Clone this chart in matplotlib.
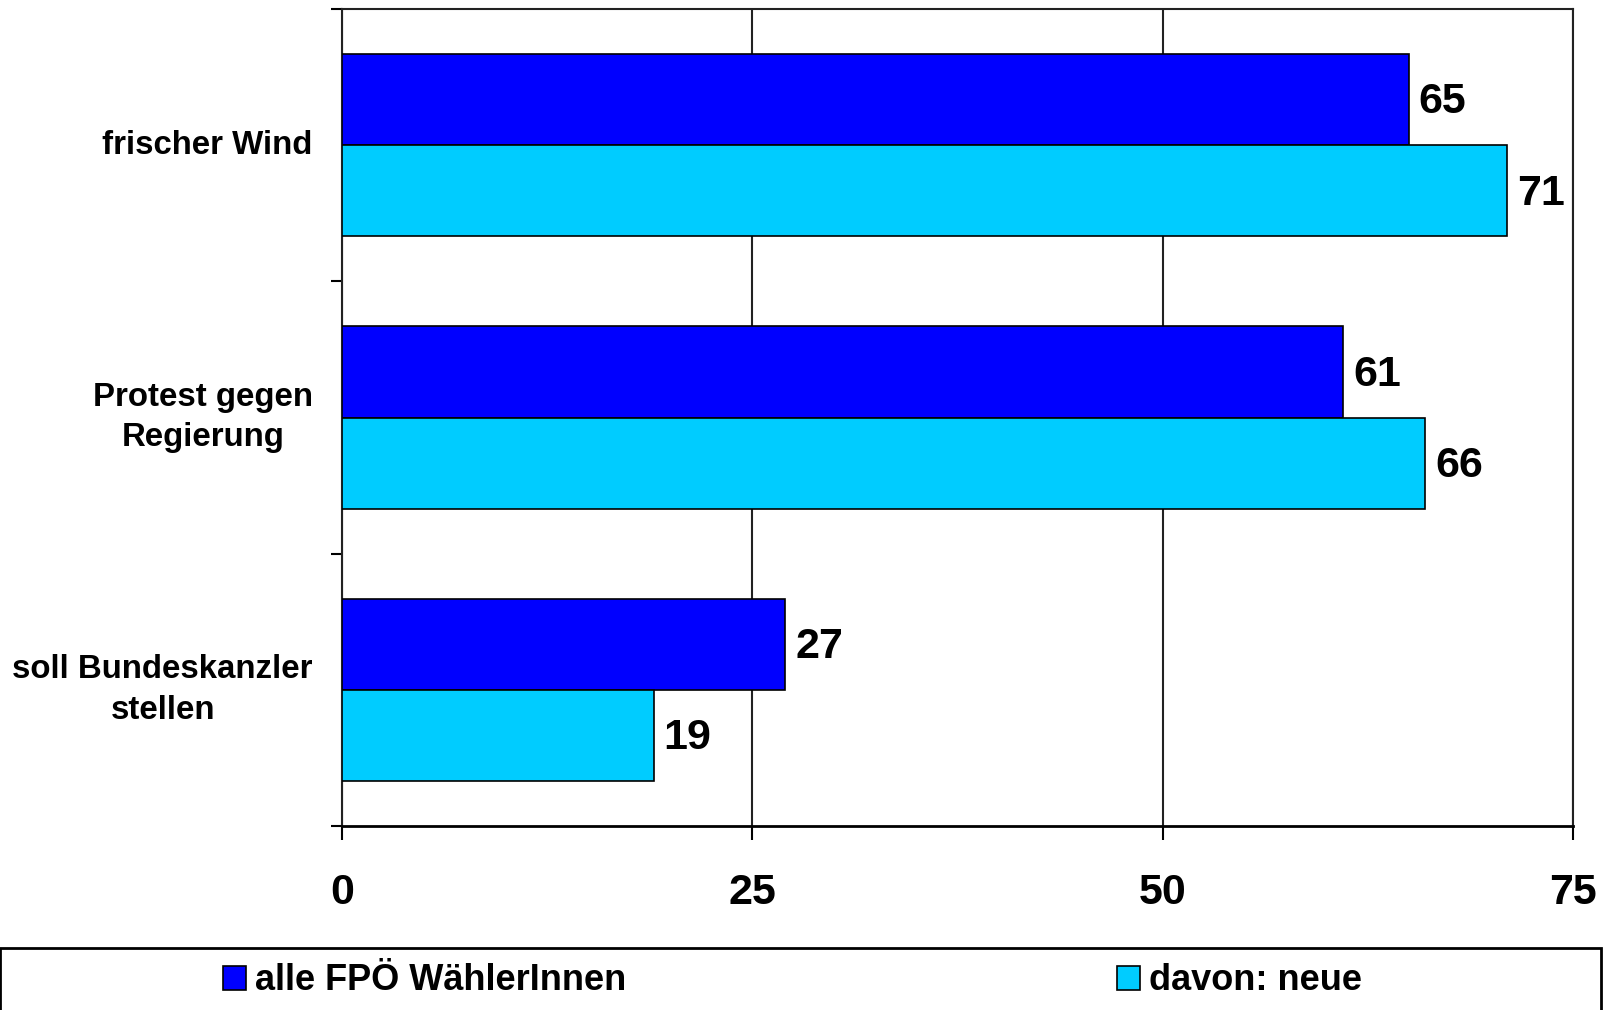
import numpy as np
import matplotlib.pyplot as plt
from matplotlib.patches import Rectangle

categories = ['frischer Wind', 'Protest gegen\nRegierung', 'soll Bundeskanzler\nstellen']
alle = [65, 61, 27]
neue = [71, 66, 19]
series_names = ['alle FPÖ WählerInnen', 'davon: neue']
xticks = [0, 25, 50, 75]

plt.rcParams['font.family'] = ['Liberation Sans', 'DejaVu Sans']
plt.rcParams['font.weight'] = 'bold'

fig = plt.figure(figsize=(16.04, 10.10), dpi=100)
ax = fig.add_axes([342/1604, 1 - 826/1010, (1573-342)/1604, (826-9)/1010])

y = np.arange(len(categories))
h = 0.335
b1 = ax.barh(y - h/2, alle, height=h, color='#0000FF', edgecolor='black', linewidth=1.2,
             label=series_names[0], zorder=3)
b2 = ax.barh(y + h/2, neue, height=h, color='#00CCFF', edgecolor='black', linewidth=1.2,
             label=series_names[1], zorder=3)

for bars, vals in [(b1, alle), (b2, neue)]:
    for rect, v in zip(bars, vals):
        ax.text(v + 0.6, rect.get_y() + rect.get_height()/2 + 0.01, str(v),
                va='center', ha='left', fontsize=31, fontweight='bold')

ax.set_xlim(0, 75)
ax.set_ylim(len(categories) - 0.5, -0.5)
ax.set_xticks(xticks)
ax.set_xticklabels([str(t) for t in xticks], fontsize=31, fontweight='bold')
ax.tick_params(axis='x', length=10, width=1.5, pad=24, direction='out')

# category ticks at the boundaries, labels at the centres
ax.set_yticks(np.arange(len(categories) + 1) - 0.5)
ax.set_yticklabels([])
ax.set_yticks(y, minor=True)
ax.set_yticklabels(categories, minor=True, fontsize=23.8, fontweight='bold',
                   ha='right', va='center', multialignment='center', linespacing=1.4)
ax.tick_params(axis='y', which='major', length=8, width=1.5)
ax.tick_params(axis='y', which='minor', length=0, pad=21)

ax.grid(axis='x', color='#222222', linewidth=1.5, zorder=0)
for s in ax.spines.values():
    s.set_linewidth(1.5)
    s.set_color('#222222')
ax.spines['bottom'].set_color('black')
ax.spines['bottom'].set_linewidth(2)

# legend frame across the bottom
fig.patches.append(Rectangle((0.0, -0.05), 0.998, 0.05 + 1 - 948/1010,
                             transform=fig.transFigure, fill=False,
                             edgecolor='black', linewidth=2))
fig.legend(handles=[b1, b2], loc='center', bbox_to_anchor=(0.494, 1 - 981/1010),
           ncol=2, frameon=False, handlelength=0.64, handleheight=0.64,
           handletextpad=0.25, columnspacing=13.6, prop={'weight': 'bold', 'size': 26})

fig.savefig('out.png', dpi=100)
